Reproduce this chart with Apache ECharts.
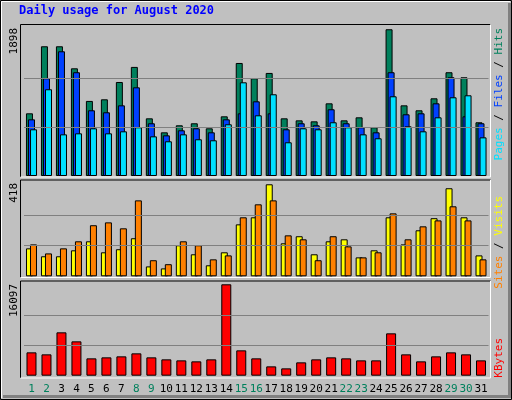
<!DOCTYPE html>
<html><head><meta charset="utf-8">
<script src="https://cdn.jsdelivr.net/npm/echarts@6/dist/echarts.min.js"></script>
<style>html,body{margin:0;padding:0;background:#c0c0c0}#c{width:512px;height:400px}</style>
</head><body><div id="c"></div>
<script>
const days = ['1','2','3','4','5','6','7','8','9','10','11','12','13','14','15','16','17','18','19','20','21','22','23','24','25','26','27','28','29','30','31'];
const weekend = ['1','2','8','9','15','16','22','23','29','30'];
const hits = [811,1678,1678,1393,971,992,1216,1411,746,565,656,682,617,772,1462,1264,1333,746,720,707,940,720,759,630,1898,914,850,1005,1342,1277,695];
const files = [733,1264,1613,1342,850,824,914,1147,682,526,591,617,565,733,811,966,811,604,682,656,863,682,630,565,1342,798,811,940,1277,772,682];
const pages = [604,1122,539,552,617,552,578,630,513,449,539,475,462,669,1212,785,1057,436,617,604,695,630,539,488,1031,643,578,759,1018,1044,500];
const sites = [127,91,91,118,159,109,123,173,45,36,141,100,50,109,236,268,418,150,182,100,159,168,86,118,268,145,209,264,400,268,95];
const visits = [145,104,127,159,232,245,218,345,73,55,159,141,77,95,268,327,345,186,168,73,182,136,86,109,286,168,227,254,318,254,77];
const kbytes = [4112,3760,7637,6051,3055,3231,3407,3936,3231,2879,2702,2526,2879,16097,4465,3055,1645,1292,2350,2879,3231,3055,2702,2702,7461,3760,2526,3407,4112,3760,2702];
const maxLabels = ['1898','418','16097'];

const F = 'DejaVu Sans Mono';
const ch = echarts.init(document.getElementById('c'));
const L = 24, R = 512-488.5;
const grids = [
  {left:L,right:R,top:24.7,height:151.3},
  {left:L,right:R,top:180,height:96.3},
  {left:L,right:R,top:281,height:94.7}
];
const maxes = [1957, 437.5, 16680];
const refs = [[633,1266],[139,279],[5366,10731]];
function xa(i){return {type:'category',gridIndex:i,data:days,axisLine:{show:false},axisTick:{show:false},
  axisLabel:i===2?{show:true,interval:0,fontFamily:F,fontSize:11,margin:8,color:(v)=>weekend.includes(v)?'#00805c':'#000'}:{show:false}};}
function ya(i){return {type:'value',gridIndex:i,min:0,max:maxes[i],splitLine:{show:false},axisLabel:{show:false},axisLine:{show:false},axisTick:{show:false}};}
function bar(name,data,i,color,w,gap){return {name,type:'bar',xAxisIndex:i,yAxisIndex:i,data,barWidth:w,barGap:gap,z:3,
  itemStyle:{color,borderColor:'#000',borderWidth:1},animation:false};}
function ref(i){return {type:'line',xAxisIndex:i,yAxisIndex:i,data:[],z:1,silent:true,
  markLine:{silent:true,symbol:'none',label:{show:false},lineStyle:{color:'#808080',type:'solid',width:1},animation:false,
  data:refs[i].map(v=>({yAxis:v}))}};}
function frame(x1,y1,x2,y2){return [
  {type:'line',shape:{x1:x1,y1:y1,x2:x2,y2:y1},style:{stroke:'#000',lineWidth:1},z:10},
  {type:'line',shape:{x1:x1,y1:y1,x2:x1,y2:y2},style:{stroke:'#000',lineWidth:1},z:10},
  {type:'line',shape:{x1:x1,y1:y2,x2:x2,y2:y2},style:{stroke:'#fff',lineWidth:1},z:10},
  {type:'line',shape:{x1:x2,y1:y1,x2:x2,y2:y2},style:{stroke:'#fff',lineWidth:1},z:10}];}
function vtext(x,y,text,rich){return {type:'text',x:x,y:y,rotation:Math.PI/2,z:10,
  style:{text:text,font:'11px "DejaVu Sans Mono"',fill:'#000',align:'right',verticalAlign:'middle',rich:rich||{}}};}
const rs = {fontFamily:F,fontSize:11};
ch.setOption({
  backgroundColor:'#c0c0c0',animation:false,
  grid:grids,
  xAxis:[xa(0),xa(1),xa(2)],
  yAxis:[ya(0),ya(1),ya(2)],
  series:[ref(0),ref(1),ref(2),
    bar('Hits',hits,0,'#00805c',7,'-71%'),
    bar('Files',files,0,'#0040ff',7,'-71%'),
    bar('Pages',pages,0,'#00e0ff',7,'-71%'),
    bar('Sites',sites,1,'#ffff00',7,'-43%'),
    bar('Visits',visits,1,'#ff8000',7,'-43%'),
    bar('KBytes',kbytes,2,'#ff0000',10,'0%')],
  graphic:[
    {type:'rect',shape:{x:0.5,y:0.5,width:511,height:399},style:{fill:'none',stroke:'#000'},z:10},
    {type:'line',shape:{x1:1.5,y1:1.5,x2:510,y2:1.5},style:{stroke:'#fff'},z:10},
    {type:'line',shape:{x1:1.5,y1:1.5,x2:1.5,y2:398},style:{stroke:'#fff'},z:10},
    {type:'line',shape:{x1:3,y1:396.5,x2:510,y2:396.5},style:{stroke:'#808080',lineWidth:3},z:10},
    {type:'line',shape:{x1:509.5,y1:3,x2:509.5,y2:398},style:{stroke:'#808080',lineWidth:3},z:10},
    {type:'text',x:19,y:11,z:10,style:{text:'Daily usage for August 2020',font:'bold 12px "DejaVu Sans Mono"',fill:'#0000ff',verticalAlign:'middle'}},
    ...frame(20.5,24.5,490.5,177),
    ...frame(20.5,180,490.5,277.5),
    ...frame(20.5,281,490.5,378),
    vtext(14,28,maxLabels[0]),
    vtext(14,183,maxLabels[1]),
    vtext(14,284,maxLabels[2]),
    vtext(499,28,'{p|Pages}{k| / }{f|Files}{k| / }{h|Hits}',
      {p:{...rs,fill:'#00e0ff'},f:{...rs,fill:'#0040ff'},h:{...rs,fill:'#00805c'},k:{...rs,fill:'#000'}}),
    vtext(499,196,'{s|Sites}{k| / }{v|Visits}',
      {s:{...rs,fill:'#ff8000'},v:{...rs,fill:'#ffff00'},k:{...rs,fill:'#000'}}),
    vtext(499,338,'{k|KBytes}',{k:{...rs,fill:'#ff0000'}})
  ]
});
</script></body></html>
